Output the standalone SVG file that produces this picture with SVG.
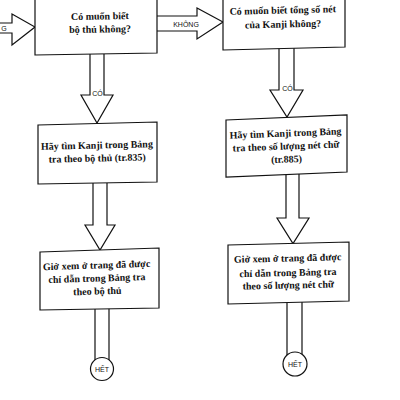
<svg xmlns="http://www.w3.org/2000/svg" width="400" height="400" viewBox="0 0 400 400">
<style>
.box{fill:#fff;stroke:#111;stroke-width:1.2}
.arr{fill:#fff;stroke:#111;stroke-width:1.2;stroke-linejoin:miter}
.t{font-family:"Liberation Serif","DejaVu Serif",serif;font-weight:bold;font-size:10px;fill:#111;text-anchor:middle}
.s{font-family:"Liberation Sans","DejaVu Sans",sans-serif;font-size:7px;fill:#111;text-anchor:middle}
</style>
<rect width="400" height="400" fill="#fff"/>
<g id="connectors">
<path class="arr" d="M-2,23 L12,23 L12,14 L35,27 L12,45 L12,33 L-2,33"/>
<text class="s" x="4" y="30.5">G</text>
<path class="arr" d="M157,16 L197,16 L197,8 L223,22 L197,39 L197,31 L157,31"/>
<text class="s" x="186" y="27">KHÔNG</text>
<path class="arr" d="M90,54 L90,95 L81,95 L97,123 L113,95 L104,95 L104,54"/>
<text class="s" x="97.5" y="96">CÓ</text>
<path class="arr" d="M279,48 L279,90 L270,90 L287,117 L303,90 L294,90 L294,47"/>
<text class="s" x="287.5" y="91">CÓ</text>
<path class="arr" d="M93,183 L93,225 L85,225 L100,250 L115,225 L107,225 L107,183"/>
<path class="arr" d="M286,175 L286,218 L277,218 L293,243.5 L309,218 L299,218 L299,174"/>
<path class="arr" d="M95,309 L95,362 M109,308 L109,362"/>
<path class="arr" d="M287,302 L287,355 M302,302 L302,355"/>
</g>
<g id="n1">
<polygon class="box" points="35,-5 157,-5 157,53 35,55"/>
<text class="t" x="100" y="19.5" transform="rotate(-1 100 25)">Có muốn biết</text>
<text class="t" x="100" y="32.5" transform="rotate(-1 100 25)">bộ thủ không?</text>
</g>
<g id="n2">
<polygon class="box" points="223,-5 345,-5 345,47 223,50"/>
<text class="t" x="283" y="13.5" transform="rotate(-1.4 283 20)">Có muốn biết tổng số nét</text>
<text class="t" x="283" y="27.5" transform="rotate(-1.4 283 20)">của Kanji không?</text>
</g>
<g id="n3">
<polygon class="box" points="38,125 157,122 157,182 38,184"/>
<text class="t" x="97" y="148.5" transform="rotate(-1.4 97 153)">Hãy tìm Kanji trong Bảng</text>
<text class="t" x="97" y="161.5" transform="rotate(-1.4 97 153)">tra theo bộ thủ (tr.835)</text>
</g>
<g id="n4">
<polygon class="box" points="226,120 347,115 347,172 226,177"/>
<text class="t" x="286" y="136.5" transform="rotate(-2.2 286 146)">Hãy tìm Kanji trong Bảng</text>
<text class="t" x="286" y="149.5" transform="rotate(-2.2 286 146)">tra theo số lượng nét chữ</text>
<text class="t" x="286" y="162.5" transform="rotate(-2.2 286 146)">(tr.885)</text>
</g>
<g id="n5">
<polygon class="box" points="40,252 159,248 159,308 40,310"/>
<text class="t" x="97" y="268.5" transform="rotate(-1.8 97 278)">Giở xem ở trang đã được</text>
<text class="t" x="97" y="281.5" transform="rotate(-1.8 97 278)">chỉ dẫn trong Bảng tra</text>
<text class="t" x="97" y="294.5" transform="rotate(-1.8 97 278)">theo bộ thủ</text>
</g>
<g id="n6">
<polygon class="box" points="228,245 349,242 349,301 228,304"/>
<text class="t" x="288" y="261.5" transform="rotate(-1.4 288 272)">Giở xem ở trang đã được</text>
<text class="t" x="288" y="276" transform="rotate(-1.4 288 272)">chỉ dẫn trong Bảng tra</text>
<text class="t" x="288" y="288.5" transform="rotate(-1.4 288 272)">theo số lượng nét chữ</text>
</g>
<g id="end1">
<circle class="box" cx="102" cy="369" r="11.5"/>
<text class="s" x="102" y="371.5">HẾT</text>
</g>
<g id="end2">
<circle class="box" cx="295" cy="364" r="12"/>
<text class="s" x="295" y="366.5">HẾT</text>
</g>
</svg>
